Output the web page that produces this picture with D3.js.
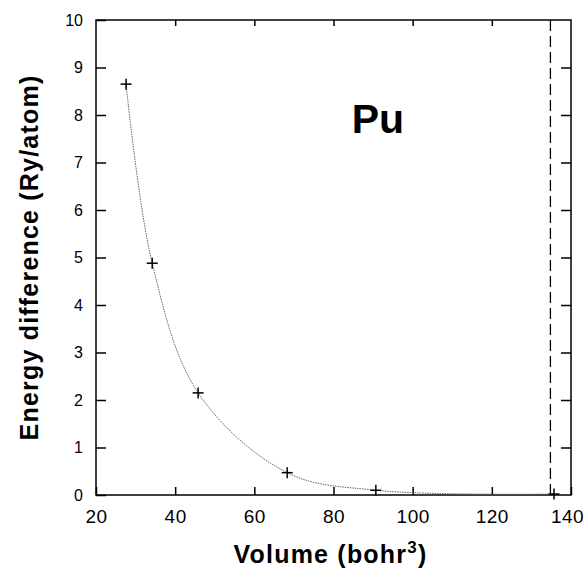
<!DOCTYPE html>
<html>
<head>
<meta charset="utf-8">
<script src="https://cdn.jsdelivr.net/npm/d3@7"></script>
<style>
  html, body { margin: 0; padding: 0; background: #fff; }
  svg { display: block; }
</style>
</head>
<body>
<svg id="chart" width="587" height="573"></svg>
<script>
// ---- data ----
const volume = [27.6, 34.2, 45.8, 68.3, 90.7, 135.7];
const energy = [8.65, 4.88, 2.15, 0.47, 0.10, 0.02];
const xTickValues = [20, 40, 60, 80, 100, 120, 140];
const yTickValues = [0, 1, 2, 3, 4, 5, 6, 7, 8, 9, 10];
const dashedVolume = [134.8];
const elementLabel = "Pu";
const xTitle = "Volume (bohr";
const xTitleSup = "3";
const yTitle = "Energy difference (Ry/atom)";

// ---- layout ----
const margin = { left: 96, top: 20, right: 16, bottom: 78 };
const W = 587, H = 573;
const iw = W - margin.left - margin.right;
const ih = H - margin.top - margin.bottom;

const svg = d3.select("#chart");
const g = svg.append("g").attr("transform", `translate(${margin.left},${margin.top})`);

const x = d3.scaleLinear().domain([20, 140]).range([0, iw]);
const y = d3.scaleLinear().domain([0, 10]).range([ih, 0]);

const tickFont = "'Liberation Sans Narrow', 'Liberation Sans', Arial, sans-serif";
const boldFont = "'Liberation Sans', Arial, Helvetica, sans-serif";

// axes (inward ticks)
const axBottom = g.append("g").attr("transform", `translate(0,${ih})`)
  .call(d3.axisBottom(x).tickValues(xTickValues).tickSize(-8).tickPadding(15).tickFormat(d3.format("d")));
const axLeft = g.append("g")
  .call(d3.axisLeft(y).tickValues(yTickValues).tickSize(-10).tickPadding(13).tickFormat(d3.format("d")));
const axTop = g.append("g")
  .call(d3.axisTop(x).tickValues(xTickValues.slice(1, -1)).tickSize(-6).tickFormat(""));
const axRight = g.append("g").attr("transform", `translate(${iw},0)`)
  .call(d3.axisRight(y).tickValues(yTickValues.slice(1, -1)).tickSize(-10).tickFormat(""));

[axBottom, axLeft, axTop, axRight].forEach(a => {
  a.select(".domain").remove();
  a.selectAll(".tick line").attr("stroke", "#000").attr("stroke-width", 1.5);
});
axBottom.selectAll("text").attr("font-family", tickFont).attr("font-size", 19)
  .attr("letter-spacing", 0.5).attr("fill", "#000")
  .attr("dx", d => d === 140 ? -4 : 0);
axLeft.selectAll("text").attr("font-family", tickFont).attr("font-size", 16).attr("fill", "#000");

// frame
g.append("rect").attr("x", 0).attr("y", 0).attr("width", iw).attr("height", ih)
  .attr("fill", "none").attr("stroke", "#000").attr("stroke-width", 1.5);

// dashed vertical line
g.selectAll(".vdash").data(dashedVolume).enter().append("line")
  .attr("class", "vdash")
  .attr("x1", d => x(d)).attr("x2", d => x(d))
  .attr("y1", y(10)).attr("y2", y(0))
  .attr("stroke", "#000").attr("stroke-width", 1.3)
  .attr("stroke-dasharray", "11,5");

// curve
const pts = volume.map((v, i) => [v, energy[i]]);
const line = d3.line().x(d => x(d[0])).y(d => y(d[1])).curve(d3.curveCatmullRom.alpha(0.5));
g.append("path").datum(pts).attr("d", line)
  .attr("fill", "none").attr("stroke", "#666").attr("stroke-width", 1)
  .attr("stroke-dasharray", "1.5,1");

// plus markers
const ms = 5.5;
const mk = g.selectAll(".mk").data(pts).enter().append("g")
  .attr("transform", d => `translate(${x(d[0])},${y(d[1])})`);
mk.append("line").attr("x1", -ms).attr("x2", ms).attr("y1", 0).attr("y2", 0)
  .attr("stroke", "#000").attr("stroke-width", 1.5);
mk.append("line").attr("x1", 0).attr("x2", 0).attr("y1", -ms).attr("y2", ms)
  .attr("stroke", "#000").attr("stroke-width", 1.5);

// element label
g.append("text").attr("x", x(91.2)).attr("y", 113)
  .attr("font-family", boldFont).attr("font-weight", "bold").attr("font-size", 41)
  .attr("text-anchor", "middle").text(elementLabel);

// axis titles
const xt = svg.append("text")
  .attr("x", margin.left + iw / 2 - 3).attr("y", 563)
  .attr("font-family", boldFont).attr("font-weight", "bold").attr("font-size", 25)
  .attr("letter-spacing", 1.2)
  .attr("text-anchor", "middle");
xt.append("tspan").text(xTitle);
xt.append("tspan").attr("font-size", 17).attr("dy", -10).text(xTitleSup);
xt.append("tspan").attr("dy", 10).text(")");

svg.append("text")
  .attr("transform", `translate(38,${margin.top + ih / 2}) rotate(-90)`)
  .attr("font-family", boldFont).attr("font-weight", "bold").attr("font-size", 25)
  .attr("letter-spacing", 1.2)
  .attr("text-anchor", "middle").text(yTitle);
</script>
</body>
</html>
